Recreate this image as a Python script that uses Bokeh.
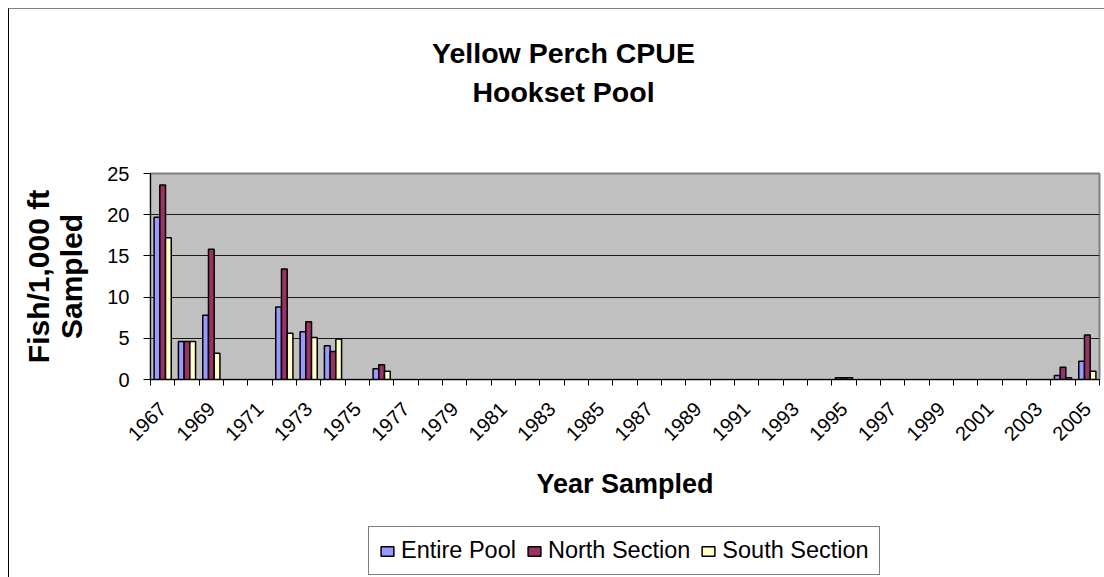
import math
from bokeh.plotting import figure
from bokeh.layouts import column
from bokeh.models import Range1d, FixedTicker, Legend, LegendItem, Label, ColumnDataSource
from bokeh.transform import dodge
from bokeh.embed import file_html
from bokeh.resources import INLINE

# ---- data ----
axis_years = list(range(1967, 2006))
sample_years = [1967, 1968, 1969, 1972, 1973, 1974, 1976, 1995, 2004, 2005]
entire_pool = [19.7, 4.6, 7.8, 8.8, 5.8, 4.1, 1.3, 0.2, 0.5, 2.2]
north_section = [23.6, 4.6, 15.8, 13.4, 7.0, 3.4, 1.8, 0.2, 1.5, 5.4]
south_section = [17.2, 4.6, 3.2, 5.6, 5.1, 4.9, 1.0, 0.2, 0.2, 1.0]
y_ticks = [0, 5, 10, 15, 20, 25]
labeled_years = axis_years[::2]
series_names = ["Entire Pool", "North Section", "South Section"]
series_fields = ["entire", "north", "south"]
series_colors = ["#9999FF", "#993366", "#FFFFCC"]
title_lines = ["Yellow Perch CPUE", "Hookset Pool"]

FONT = "Liberation Sans"
W = 1095

src = ColumnDataSource(dict(year=sample_years, entire=entire_pool,
                            north=north_section, south=south_section))


def blank(height):
    f = figure(width=W, height=height, output_backend="svg", toolbar_location=None,
               x_axis_type=None, y_axis_type=None,
               x_range=Range1d(0, 1), y_range=Range1d(0, 1),
               min_border_left=0, min_border_right=0, min_border_top=0, min_border_bottom=0)
    f.outline_line_color = None
    f.background_fill_color = "white"
    f.border_fill_color = "white"
    return f


# ---- title strip (its frame is aligned with the chart frame) ----
head = blank(150)
for txt, yy in zip(title_lines, [107, 68]):
    head.add_layout(Label(x=413, y=yy, x_units="screen", y_units="screen", text=txt,
                          text_font=FONT, text_font_size="28.5px", text_font_style="bold",
                          text_color="black", text_align="center", text_baseline="alphabetic"))

# ---- main chart ----
p = figure(width=W, height=350, output_backend="svg", toolbar_location=None,
           x_range=Range1d(axis_years[0] - 0.5, axis_years[-1] + 0.5),
           y_range=Range1d(y_ticks[0], y_ticks[-1]),
           min_border_left=141, min_border_right=5, min_border_top=14, min_border_bottom=130)
p.background_fill_color = "#C0C0C0"
p.border_fill_color = "white"
p.outline_line_color = "#808080"
p.outline_line_width = 2

bw = 0.235
for field, off, col in zip(series_fields, [-bw, 0, bw], series_colors):
    p.vbar(x=dodge("year", off, range=p.x_range), top=field, bottom=0, width=bw,
           source=src, fill_color=col, line_color="black", line_width=1.5)

p.xgrid.visible = False
p.ygrid.ticker = FixedTicker(ticks=y_ticks[1:-1])
p.ygrid.grid_line_color = "#1a1a1a"
p.ygrid.grid_line_width = 1

xa = p.xaxis[0]
xa.ticker = FixedTicker(ticks=labeled_years,
                        minor_ticks=[y - 0.5 for y in axis_years] + [axis_years[-1] + 0.5])
xa.major_tick_line_color = None
xa.minor_tick_line_color = "black"
xa.minor_tick_out = 6
xa.minor_tick_in = 0
xa.axis_line_color = "black"
xa.major_label_orientation = math.pi / 4
xa.major_label_text_font = FONT
xa.major_label_text_font_size = "20px"
xa.major_label_text_color = "black"
xa.major_label_standoff = 20
xa.axis_label = "Year Sampled"
xa.axis_label_text_font = FONT
xa.axis_label_text_font_size = "27px"
xa.axis_label_text_font_style = "bold"
xa.axis_label_text_color = "black"
xa.axis_label_standoff = 19

ya = p.yaxis[0]
ya.ticker = FixedTicker(ticks=y_ticks)
ya.major_tick_out = 7
ya.major_tick_in = 0
ya.major_tick_line_color = "black"
ya.minor_tick_line_color = None
ya.axis_line_color = "black"
ya.major_label_text_font = FONT
ya.major_label_text_font_size = "20px"
ya.major_label_text_color = "black"
ya.major_label_standoff = 14
ya.axis_label = "Fish/1,000 ft\nSampled"
ya.axis_label_text_font = FONT
ya.axis_label_text_font_size = "30px"
ya.axis_label_text_font_style = "bold"
ya.axis_label_text_color = "black"
ya.axis_label_text_line_height = 1.0
ya.axis_label_standoff = 16

# ---- legend strip (hidden proxies of the same data feed the legend swatches) ----
foot = blank(68)
legend_renderers = [foot.quad(left="year", right="year", bottom=0, top=f, source=src,
                              fill_color=c, line_color="black", line_width=1.5, visible=False)
                    for f, c in zip(series_fields, series_colors)]
legend = Legend(items=[LegendItem(label=n, renderers=[r])
                       for n, r in zip(series_names, legend_renderers)],
                orientation="horizontal", location=(218, 2),
                border_line_color="black", border_line_width=1,
                background_fill_color="white", background_fill_alpha=1.0,
                inactive_fill_alpha=0.0,
                label_text_font=FONT, label_text_font_size="23.5px", label_text_color="black",
                glyph_width=16, glyph_height=12, label_standoff=6, spacing=10,
                padding=10, margin=0)
foot.add_layout(legend, "center")

root = column(head, p, foot, spacing=0)
root.styles = {"margin-left": "8px", "margin-top": "8px",
               "border-left": "1px solid #000000", "border-top": "1px solid #808080"}

open("out.html", "w").write(file_html(root, INLINE))
